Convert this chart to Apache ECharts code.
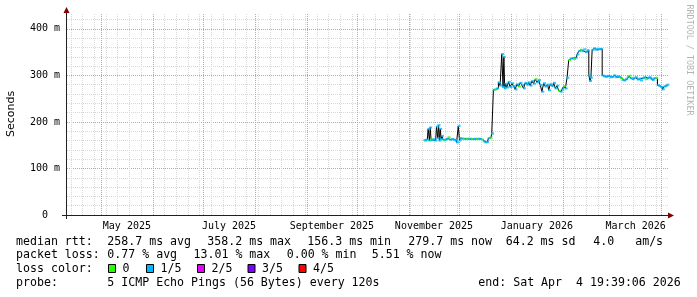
<!DOCTYPE html>
<html><head><meta charset="utf-8">
<script src="https://cdn.jsdelivr.net/npm/echarts@6/dist/echarts.min.js"></script>
<style>html,body{margin:0;padding:0;background:#fff}#c{width:697px;height:297px}</style>
</head><body><div id="c"></div><script>
// ---------------- data ----------------
const sampleTimes = [
'2025-11-10 12:00','2025-11-11','2025-11-12','2025-11-13','2025-11-13 12:00','2025-11-14','2025-11-14 12:00','2025-11-15','2025-11-16','2025-11-17',
'2025-11-18','2025-11-18 12:00','2025-11-19','2025-11-19 12:00','2025-11-20','2025-11-20 12:00','2025-11-21','2025-11-22','2025-11-23','2025-11-24',
'2025-11-25','2025-11-26','2025-11-27','2025-11-28','2025-11-29','2025-11-30','2025-12-01','2025-12-01 12:00','2025-12-02','2025-12-03',
'2025-12-04','2025-12-05','2025-12-06','2025-12-07','2025-12-08','2025-12-09','2025-12-10','2025-12-11','2025-12-12','2025-12-13',
'2025-12-14','2025-12-15','2025-12-16','2025-12-17','2025-12-18','2025-12-19','2025-12-20','2025-12-21','2025-12-22','2025-12-23',
'2025-12-24','2025-12-25','2025-12-26','2025-12-27','2025-12-27 12:00','2025-12-28','2025-12-28 12:00','2025-12-29','2025-12-30','2025-12-31',
'2026-01-01','2026-01-02','2026-01-03','2026-01-04','2026-01-05','2026-01-06','2026-01-07','2026-01-08','2026-01-09','2026-01-10',
'2026-01-11','2026-01-12','2026-01-13','2026-01-14','2026-01-15','2026-01-16','2026-01-17','2026-01-18','2026-01-19','2026-01-20',
'2026-01-21','2026-01-22','2026-01-23','2026-01-24','2026-01-25','2026-01-26','2026-01-27','2026-01-28','2026-01-29','2026-01-30',
'2026-01-31','2026-02-01','2026-02-02','2026-02-03','2026-02-04','2026-02-05','2026-02-06','2026-02-07','2026-02-08','2026-02-09',
'2026-02-10','2026-02-11','2026-02-12','2026-02-13','2026-02-14','2026-02-15','2026-02-16','2026-02-17','2026-02-17 12:00','2026-02-18',
'2026-02-19','2026-02-20','2026-02-21','2026-02-22','2026-02-23','2026-02-24','2026-02-25','2026-02-26','2026-02-27','2026-02-28',
'2026-03-01','2026-03-02','2026-03-03','2026-03-04','2026-03-05','2026-03-06','2026-03-07','2026-03-08','2026-03-09','2026-03-10',
'2026-03-11','2026-03-12','2026-03-13','2026-03-14','2026-03-15','2026-03-16','2026-03-17','2026-03-18','2026-03-19','2026-03-20',
'2026-03-21','2026-03-22','2026-03-23','2026-03-24','2026-03-25','2026-03-26','2026-03-27','2026-03-28','2026-03-29','2026-03-30',
'2026-03-31','2026-04-01','2026-04-02','2026-04-03','2026-04-04','2026-04-04 19:00'
];
const medianRttMs = [
161,160,162,185,160,188,162,161,163,160,
190,165,193,160,185,163,170,161,162,164,
167,162,163,162,161,156,191,160,165,164,
164,163,164,163,164,163,163,164,163,164,
163,162,158,156,157,165,166,175,269,270,
272,285,278,346,275,340,272,282,274,286,
275,283,277,270,281,276,284,279,272,284,
280,285,278,288,282,292,285,290,279,265,
283,276,280,268,281,277,284,272,278,267,
265,270,277,272,295,333,336,337,335,338,
345,352,355,352,356,350,354,300,288,295,
355,358,355,357,356,357,300,298,297,299,
298,296,297,300,296,298,297,294,290,289,
292,296,299,294,292,295,296,291,293,289,
294,296,292,294,296,293,290,294,294,279,
277,275,270,276,278,280
];
const lossFifths = [
0,1,1,1,1,1,0,1,1,1,
1,1,1,1,1,1,1,0,1,1,
0,1,1,1,1,1,1,1,1,1,
0,1,0,1,1,0,1,1,0,1,
1,0,1,1,1,1,0,1,1,0,
1,1,1,1,1,1,1,1,1,1,
1,1,1,1,1,0,1,1,1,1,
1,1,1,1,1,0,1,1,1,1,
1,1,1,1,1,1,1,1,1,0,
1,1,0,1,1,0,1,1,0,1,
1,1,0,1,1,1,1,1,1,1,
1,1,1,1,1,1,1,1,1,1,
1,1,1,1,1,1,1,0,1,1,
1,1,0,1,1,1,1,1,1,1,
1,1,0,1,1,1,1,1,0,1,
1,1,1,1,1,1
];
const monthStarts = ['2025-05-01','2025-06-01','2025-07-01','2025-08-01','2025-09-01','2025-10-01',
  '2025-11-01','2025-12-01','2026-01-01','2026-02-01','2026-03-01','2026-04-01'];
const monthLabelTimes = ['2025-05-16 12:00','2025-07-16 12:00','2025-09-16','2025-11-16','2026-01-16 12:00','2026-03-16 12:00'];
const monthLabels = ['May 2025','July 2025','September 2025','November 2025','January 2026','March 2026'];
const yMax = 434;
const yMajorStep = 100;
const yMinorStep = 20;
const lossColors = ['#26ff00','#00b8ff','#e600ff','#7e00ff','#ff0000'];
const lossLabels = ['0','1/5','2/5','3/5','4/5'];
const statsRtt = ['median rtt:','258.7 ms avg','358.2 ms max','156.3 ms min','279.7 ms now','64.2 ms sd','4.0   am/s'];
const statsLoss = ['packet loss:','0.77 % avg','13.01 % max','0.00 % min','5.51 % now'];
const probeText = ['probe:','5 ICMP Echo Pings (56 Bytes) every 120s','end: Sat Apr  4 19:39:06 2026'];
const timeStart = '2025-04-10 17:15';
const timeEnd = '2026-04-04 19:39';

// ---------------- chart ----------------
const MONO = '"DejaVu Sans Mono", monospace';
const weekly = [];
for (let d = new Date(2025, 3, 13); d < new Date(2026, 3, 4); d.setDate(d.getDate() + 7)) weekly.push(d.getTime());

const rttData = sampleTimes.map((t, i) => [t, medianRttMs[i]]);
const lossData = sampleTimes.map((t, i) => ({ value: [t, medianRttMs[i]], itemStyle: { color: lossColors[lossFifths[i]] } }));

const gridMinorStyle = { color: '#d8d8d8', type: 'dotted', width: 1 };
const gridMajorStyle = { color: '#e89494', type: 'dotted', width: 1 };

const chart = echarts.init(document.getElementById('c'), null, { renderer: 'canvas' });

const graphic = [];
graphic.push({ type: 'line', shape: { x1: 62, y1: 215.5, x2: 669, y2: 215.5 }, style: { stroke: '#202020', lineWidth: 1 }, z: 50 });
graphic.push({ type: 'line', shape: { x1: 66.5, y1: 219, x2: 66.5, y2: 12 }, style: { stroke: '#202020', lineWidth: 1 }, z: 50 });
graphic.push({ type: 'polygon', shape: { points: [[668, 212.5], [674, 215.5], [668, 218.5]] }, style: { fill: '#7f0000' }, z: 51 });
graphic.push({ type: 'polygon', shape: { points: [[63.5, 13], [66.5, 7], [69.5, 13]] }, style: { fill: '#7f0000' }, z: 51 });
graphic.push({ type: 'text', x: 11, y: 114, rotation: Math.PI / 2,
  style: { text: 'Seconds', font: '11px "DejaVu Sans"', fill: '#000', align: 'center', verticalAlign: 'middle' } });
graphic.push({ type: 'text', x: 689, y: 60, rotation: -Math.PI / 2,
  style: { text: 'RRDTOOL / TOBI OETIKER', font: '8.4px ' + MONO, fill: '#b4b4b4', align: 'center', verticalAlign: 'middle' } });
const F = '11.6px ' + MONO;
const rows = [241.5, 255.2, 268.9, 282.6];
const rttX = [16, 107.3, 207.3, 307.3, 408.3, 505.7, 593.3];
statsRtt.forEach((s, i) => graphic.push({ type: 'text', x: rttX[i], y: rows[0], style: { text: s, font: F, fill: '#000', verticalAlign: 'middle' } }));
const lossX = [16, 107.3, 193.5, 286.7, 371.7];
statsLoss.forEach((s, i) => graphic.push({ type: 'text', x: lossX[i], y: rows[1], style: { text: s, font: F, fill: '#000', verticalAlign: 'middle' } }));
graphic.push({ type: 'text', x: 16, y: rows[2], style: { text: 'loss color:', font: F, fill: '#000', verticalAlign: 'middle' } });
const boxX = [108, 146, 197, 247.5, 298.5];
lossLabels.forEach((s, i) => {
  graphic.push({ type: 'rect', shape: { x: boxX[i] + 0.5, y: 264.5, width: 7, height: 8 }, style: { fill: lossColors[i], stroke: '#000', lineWidth: 1 } });
  graphic.push({ type: 'text', x: boxX[i] + 14.5, y: rows[2], style: { text: s, font: F, fill: '#000', verticalAlign: 'middle' } });
});
const probeX = [16, 107.3, 478.3];
probeText.forEach((s, i) => graphic.push({ type: 'text', x: probeX[i], y: rows[3], style: { text: s, font: F, fill: '#000', verticalAlign: 'middle' } }));

chart.setOption({
  animation: false,
  backgroundColor: '#ffffff',
  grid: { left: 67, top: 13, width: 601, height: 202 },
  xAxis: {
    type: 'time', min: timeStart, max: timeEnd,
    axisLine: { show: false }, axisTick: { show: false }, axisLabel: { show: false }, splitLine: { show: false }
  },
  yAxis: [
    { type: 'value', min: 0, max: yMax, interval: yMinorStep, z: 0,
      axisLine: { show: false }, axisTick: { show: false }, axisLabel: { show: false },
      splitLine: { show: true, showMinLine: false, showMaxLine: false, lineStyle: gridMinorStyle } },
    { type: 'value', min: 0, max: yMax, interval: yMajorStep, position: 'left', z: 1,
      axisLine: { show: false }, axisTick: { show: false },
      splitLine: { show: true, showMinLine: false, showMaxLine: false, lineStyle: gridMajorStyle },
      axisLabel: {
        margin: 7, fontFamily: MONO, fontSize: 10, color: '#000', showMaxLabel: false,
        formatter: v => (v % yMajorStep !== 0 ? '' : (v === 0 ? '0  ' : v + ' m'))
      } }
  ],
  series: [
    { name: 'gridMinor', type: 'line', data: [], z: 1, silent: true,
      markLine: { silent: true, symbol: ['none', 'none'], label: { show: false }, lineStyle: gridMinorStyle,
        data: weekly.map(t => ({ xAxis: t, lineStyle: gridMinorStyle })) } },
    { name: 'gridMajor', type: 'line', data: [], z: 2, silent: true,
      markLine: { silent: true, symbol: ['none', 'none'], label: { show: false }, lineStyle: gridMajorStyle,
        data: monthStarts.map(t => ({ xAxis: t, lineStyle: gridMajorStyle })) } },
    { name: 'monthLabels', type: 'line', data: [], z: 3, silent: true,
      markLine: { silent: true, symbol: ['none', 'none'], lineStyle: { color: 'rgba(0,0,0,0)', width: 0 },
        label: { show: true, position: 'start', distance: 6, formatter: '{b}', color: '#000', fontFamily: MONO, fontSize: 10 },
        data: monthLabelTimes.map((t, i) => ({ xAxis: t, name: monthLabels[i] })) } },
    { name: 'smoke', type: 'line', data: rttData, step: 'middle', showSymbol: false, z: 5,
      lineStyle: { color: '#000', width: 1 } },
    { name: 'median', type: 'scatter', data: lossData, symbol: 'rect', symbolSize: [3, 2], z: 6 }
  ],
  graphic: graphic
});
</script></body></html>
